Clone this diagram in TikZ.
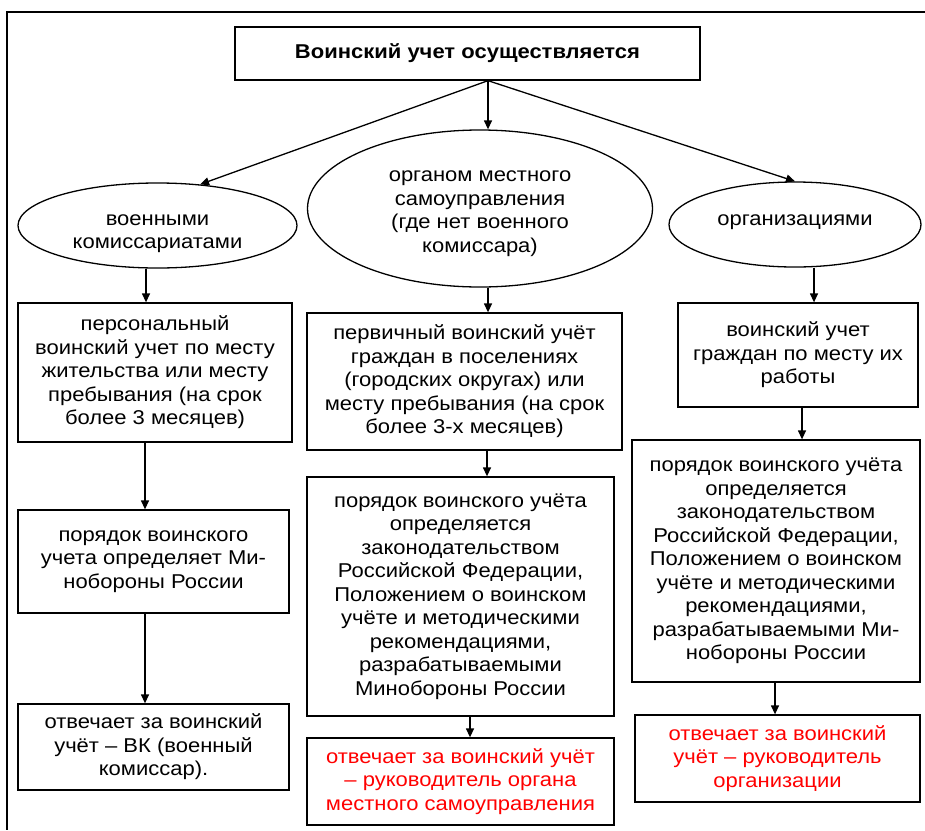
\documentclass[tikz,border=0pt]{standalone}
\usepackage{fontspec}
\setmainfont{Liberation Sans}[FakeStretch=1.1]
\usetikzlibrary{shapes.geometric,arrows.meta}
\begin{document}
\begin{tikzpicture}[x=1pt,y=-1pt,
  every node/.style={font=\fontsize{20}{23.5}\selectfont},
  box/.style={draw, line width=1.3pt, rectangle, align=center, inner sep=0pt},
  oval/.style={draw, line width=1.3pt, ellipse, align=center, inner sep=0pt},
  ovaltext/.style={label={[align=center, yshift=#1]center:{\ovtext}}},
  arr/.style={line width=1.3pt, -{Triangle[length=9pt,width=8pt]}},
  frame/.style={line width=1.5pt},
  redtext/.style={text=red}]
\useasboundingbox (0,0) rectangle (925,830);
\draw[frame] (925,12) -- (7,12) -- (7,830);

\node[box, minimum width=465, minimum height=53, font=\fontsize{20}{23.5}\selectfont\bfseries] (title) at (467.5,53.5) {Воинский учет осуществляется};

\node[oval, minimum width=279, minimum height=85,
  label={[align=center, yshift=-8pt]center:{военными\\комиссариатами}}] (ellL) at (157.5,225.5) {};
\node[oval, minimum width=345, minimum height=157,
  label={[align=center, yshift=-5pt]center:{органом местного\\самоуправления\\(где нет военного\\комиссара)}}] (ellM) at (480,208.5) {};
\node[oval, minimum width=252, minimum height=85,
  label={[yshift=2pt]center:{организациями}}] (ellR) at (795,224.5) {};

\node[box, minimum width=274, minimum height=139] (L2) at (155,372.5) {персональный\\воинский учет по месту\\жительства или месту\\пребывания (на срок\\более 3 месяцев)};
\node[box, minimum width=271, minimum height=103] (L3) at (153.5,561.5) {порядок воинского\\учета определяет Ми-\\нобороны России};
\node[box, minimum width=271, minimum height=86] (L4) at (153.5,747) {отвечает за воинский\\учёт – ВК (военный\\комиссар).};

\node[box, minimum width=315, minimum height=137] (M2) at (464.5,381.5) {первичный воинский учёт\\граждан в поселениях\\(городских округах) или\\месту пребывания (на срок\\более 3-х месяцев)};
\node[box, minimum width=307, minimum height=239] (M3) at (460.5,596.5) {порядок воинского учёта\\определяется\\законодательством\\Российской Федерации,\\Положением о воинском\\учёте и методическими\\рекомендациями,\\разрабатываемыми\\Минобороны России};
\node[box, redtext, minimum width=307, minimum height=87] (M4) at (460.5,781.5) {отвечает за воинский учёт\\– руководитель органа\\местного самоуправления};

\node[box, minimum width=240, minimum height=104] (R2) at (798,355) {воинский учет\\граждан по месту их\\работы};
\node[box, minimum width=288, minimum height=242] (R3) at (776,561) {порядок воинского учёта\\определяется\\законодательством\\Российской Федерации,\\Положением о воинском\\учёте и методическими\\рекомендациями,\\разрабатываемыми Ми-\\нобороны России};
\node[box, redtext, minimum width=285, minimum height=87] (R4) at (777.5,758.5) {отвечает за воинский\\учёт – руководитель\\организации};

\coordinate (top) at (title.south -| 488,0);
\draw[arr] (top) -- (ellL.44);
\draw[arr] (top) -- (ellR.north);
\draw[arr] (top) -- (ellM.north -| top);

\draw[arr] (ellL.south -| 146,0) -- (L2.north -| 146,0);
\draw[arr] (ellM.south -| 488,0) -- (M2.north -| 488,0);
\draw[arr] (ellR.south -| 814,0) -- (R2.north -| 814,0);

\draw[arr] (L2.south -| 145,0) -- (L3.north -| 145,0);
\draw[arr] (L3.south -| 145,0) -- (L4.north -| 145,0);
\draw[arr] (M2.south -| 487,0) -- (M3.north -| 487,0);
\draw[arr] (M3.south -| 470,0) -- (M4.north -| 470,0);
\draw[arr] (R2.south -| 802,0) -- (R3.north -| 802,0);
\draw[arr] (R3.south -| 775,0) -- (R4.north -| 775,0);
\end{tikzpicture}
\end{document}
